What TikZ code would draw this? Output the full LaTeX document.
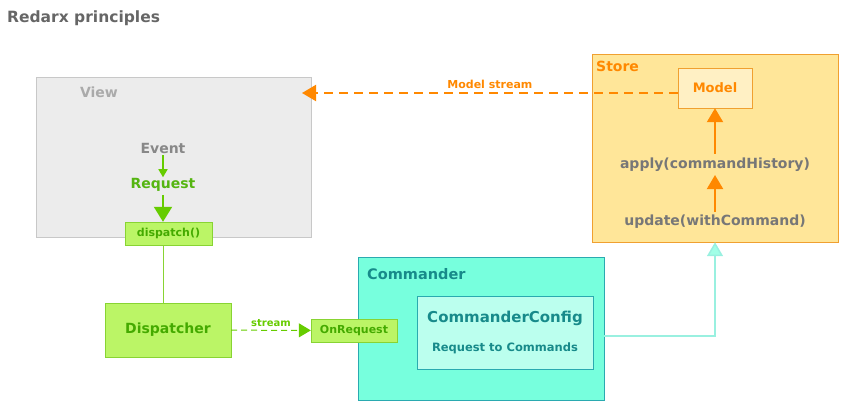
\documentclass[tikz,border=0pt]{standalone}
\usepackage{fontspec}
\setmainfont{DejaVu Sans}
\usepackage{tikz}
\usetikzlibrary{arrows.meta}
\usetikzlibrary{graphs}
\usetikzlibrary{quotes}

\definecolor{titlegray}{HTML}{666666}
\definecolor{viewfill}{HTML}{ECECEC}
\definecolor{viewline}{HTML}{C8C8C8}
\definecolor{viewtext}{HTML}{AAAAAA}
\definecolor{eventtext}{HTML}{888888}
\definecolor{reqgreen}{HTML}{55B511}
\definecolor{arrowgreen}{HTML}{66CC00}
\definecolor{boxgreen}{HTML}{BBF566}
\definecolor{linegreen}{HTML}{88D433}
\definecolor{textgreen}{HTML}{44AA00}
\definecolor{cmdfill}{HTML}{77FFDD}
\definecolor{cmdline}{HTML}{2AAAB0}
\definecolor{cmdtext}{HTML}{178A8A}
\definecolor{cfgfill}{HTML}{BBFFEE}
\definecolor{cyanline}{HTML}{99F0E0}
\definecolor{storefill}{HTML}{FFE699}
\definecolor{storeline}{HTML}{F0A030}
\definecolor{storetext}{HTML}{FF8800}
\definecolor{modelfill}{HTML}{FFF0C4}
\definecolor{methodgray}{HTML}{777777}

\tikzset{
  box/.style={draw, rectangle, inner sep=0pt},
  txt/.style={font=\bfseries\fontsize{#1}{#1}\selectfont, inner sep=0pt},
  bigtip/.style={-{Triangle[length=14pt, width=16pt]}},
}

\begin{document}
\begin{tikzpicture}[x=1pt, y=-1pt]
        \useasboundingbox (0,0) rectangle (851,415);

        \node[anchor=west, txt=15.5, text=titlegray] (title) at (7,18) {Redarx principles};

        % view side
        \node[box, fill=viewfill, draw=viewline, minimum width=275pt, minimum height=160pt] (view) at (173.5,157) {};
        \node[txt=14, text=viewtext]  (viewlbl) at (99,92)   {View};
        \node[txt=14, text=eventtext] (event)   at (163,148) {Event};
        \node[txt=14, text=reqgreen]  (request) at (163,185) {Request};
        \node[box, txt=11, fill=boxgreen, draw=linegreen, text=textgreen, minimum width=87pt, minimum height=23pt] (disp) at (168.5,233.5) {dispatch()};

        \node[box, txt=14, fill=boxgreen, draw=linegreen, text=textgreen, minimum width=126pt, minimum height=54pt] (dispatcher) at (168,330) {Dispatcher};

        % commander
        \node[box, fill=cmdfill, draw=cmdline, minimum width=246pt, minimum height=143pt] (commander) at (481,328.5) {};
        \node[anchor=west, txt=14.5, text=cmdtext] (cmdlbl) at (367,274) {Commander};
        \node[box, fill=cfgfill, draw=cmdline, minimum width=176pt, minimum height=73pt] (config) at (505,332.5) {};
        \node[txt=15, text=cmdtext]   (cfgname) at (505,318) {CommanderConfig};
        \node[txt=11.5, text=cmdtext] (cfgtext) at (505,348) {Request to Commands};
        \node[box, txt=11, fill=boxgreen, draw=linegreen, text=textgreen, minimum width=86pt, minimum height=23pt] (onreq) at (354,330.5) {OnRequest};

        % store
        \node[box, fill=storefill, draw=storeline, minimum width=246pt, minimum height=188pt] (store) at (715,148) {};
        \node[anchor=west, txt=14, text=storetext] (storelbl) at (596,66) {Store};
        \node[box, txt=13, fill=modelfill, draw=storeline, text=storetext, minimum width=74pt, minimum height=40pt] (model) at (715,88) {Model};
        \node[txt=14, text=methodgray] (apply)  at (715,165) {apply(commandHistory)};
        \node[txt=14, text=methodgray] (update) at (715,222) {update(withCommand)};

        \coordinate (viewin) at (302,93);

        \graph {(event) ->[arrowgreen, line width=1.5pt, -{Triangle[length=8pt, width=9pt]}, shorten <=2pt, shorten >=1pt] (request)};
        \graph {(update) ->[storetext, line width=2pt, bigtip, shorten <=3pt, shorten >=3pt] (apply)};
        \graph {(apply) ->[storetext, line width=2pt, bigtip, shorten <=4pt] (model)};
        \graph {(dispatcher) ->[arrowgreen, line width=1pt, dash pattern=on 6pt off 4pt, -{Triangle[length=12pt, width=14pt]}, "stream" {above=3pt, txt=10}] (onreq)};

        \draw[arrowgreen, line width=2pt, -{Triangle[length=15pt, width=18pt]}, shorten <=3pt] (request) -- (request |- disp.north);
        \draw[storetext, line width=2pt, dash pattern=on 9pt off 6pt, -{Triangle[length=14pt, width=16pt]}] (model.west |- viewin) -- node[above=3pt, txt=11] {Model stream} (viewin);
        \draw[linegreen, line width=1pt] (disp.south -| request) -- (dispatcher.north -| request);
        \draw[cyanline, line width=1.5pt, -{Triangle[length=14pt, width=16pt, fill=cmdfill!70!white]}] ([yshift=-7.5pt]commander.east) -| (store.south);
\end{tikzpicture}
\end{document}
